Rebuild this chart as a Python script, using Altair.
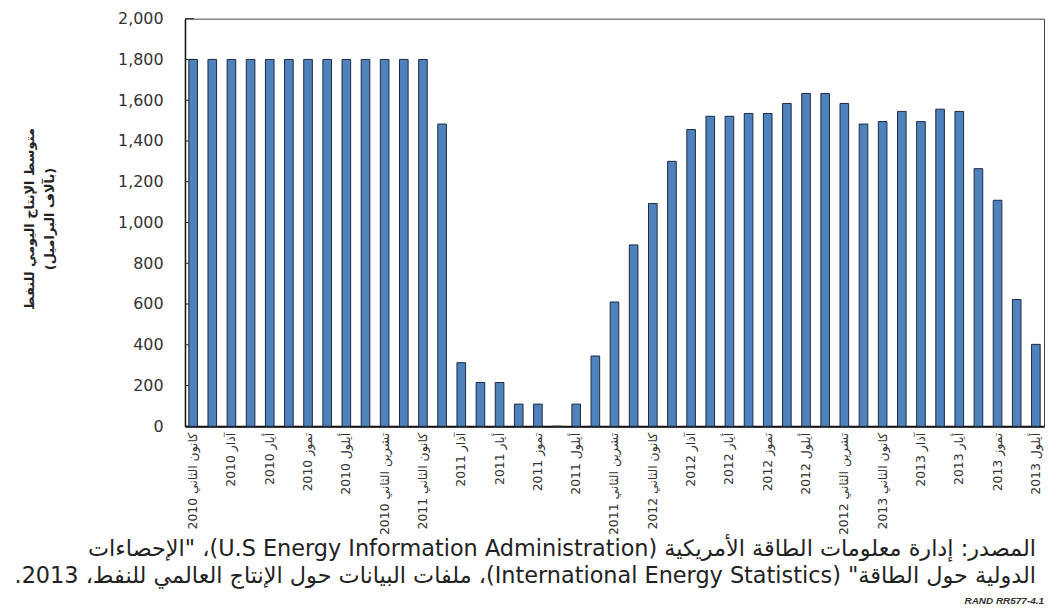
import altair as alt
import pandas as pd

month_names = ["كانون الثاني", "شباط", "آذار", "نيسان", "أيار", "حزيران",
               "تموز", "آب", "أيلول", "تشرين الأول", "تشرين الثاني", "كانون الأول"]
years = [2010, 2011, 2012, 2013]

# Average daily oil production (thousand barrels), Jan 2010 - Sep 2013
prod_2010 = [1800, 1800, 1800, 1800, 1800, 1800, 1800, 1800, 1800, 1800, 1800, 1800]
prod_2011 = [1800, 1483, 312, 215, 215, 109, 109, 0, 109, 345, 610, 890]
prod_2012 = [1093, 1300, 1456, 1521, 1521, 1535, 1535, 1584, 1633, 1633, 1584, 1483]
prod_2013 = [1495, 1545, 1495, 1556, 1545, 1264, 1109, 622, 402]

production = prod_2010 + prod_2011 + prod_2012 + prod_2013
categories = [f"{m} {y}" for y in years for m in month_names][:len(production)]
label_values = categories[::2]

y_ticks = [0, 200, 400, 600, 800, 1000, 1200, 1400, 1600, 1800, 2000]

y_title = ["متوسط الإنتاج اليومي للنفط", "(بآلاف البراميل)"]
source_line1 = "المصدر: إدارة معلومات الطاقة الأمريكية (U.S Energy Information Administration)، \"الإحصاءات"
source_line2 = "الدولية حول الطاقة\" (International Energy Statistics)، ملفات البيانات حول الإنتاج العالمي للنفط، 2013."
credit = "RAND RR577-4.1"

df = pd.DataFrame({"month": categories, "value": production})
ticks_df = pd.DataFrame({"v": y_ticks})

W, H = 864, 410

bars = alt.Chart(df).mark_bar(
    fill="#4f81bd", stroke="#1b2a40", strokeWidth=1
).encode(
    x=alt.X("month:N", sort=categories,
            scale=alt.Scale(paddingInner=0.55, paddingOuter=0.2),
            axis=alt.Axis(title=None, values=label_values, labelAngle=270,
                          labelFontSize=12.5, labelFont="DejaVu Sans",
                          labelColor="#333333", labelPadding=6, ticks=False,
                          domainColor="#111111", domainWidth=2)),
    y=alt.Y("value:Q", scale=alt.Scale(domain=[0, 2000], nice=False),
            axis=alt.Axis(values=y_ticks, format=",d", grid=False, ticks=False,
                          labelFontSize=16, labelFont="DejaVu Sans",
                          labelColor="#333333", labelPadding=22,
                          domainColor="#111111", domainWidth=1.5,
                          title=y_title, titleFont="DejaVu Sans", titleFontSize=13,
                          titleFontWeight="bold", titleColor="#222222",
                          titleAngle=270, titleAlign="center", titleBaseline="middle",
                          titleX=-156, titleY=201, titleLineHeight=20)),
)

tick_rules = alt.Chart(ticks_df).mark_rule(color="#222222", strokeWidth=1).encode(
    y=alt.Y("v:Q"),
    x=alt.value(0), x2=alt.value(9),
)

def text_layer(txt, x, y, size, align="right", weight="normal", font="DejaVu Sans", color="#222222", style="normal"):
    return alt.Chart(pd.DataFrame({"t": [txt]})).mark_text(
        align=align, baseline="middle", fontSize=size, fontWeight=weight,
        font=font, color=color, fontStyle=style
    ).encode(text="t:N", x=alt.value(x), y=alt.value(y))

RLE, PDF = "\u202b", "\u202c"
foot1 = text_layer(RLE + source_line1 + PDF, 856, 533, 22.5)
foot2 = text_layer(RLE + source_line2 + PDF, 856, 561, 22.5)
foot3 = text_layer(credit, 864, 586, 10, weight="bold", font="Liberation Sans", color="#333333", style="italic")

chart = alt.layer(tick_rules, bars, foot1, foot2, foot3).properties(
    width=W, height=H,
    autosize=alt.AutoSizeParams(type="none"),
    padding={"left": 178, "top": 9, "right": 2, "bottom": 179},
).configure_view(stroke="#444444", strokeWidth=1)

chart.save("out.html", embed_options={"renderer": "svg", "actions": False})
